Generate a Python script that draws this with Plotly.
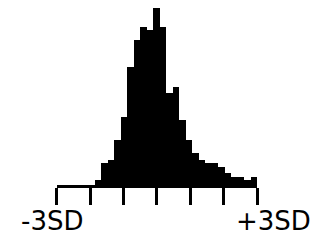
import plotly.graph_objects as go

# Histogram of values in SD units
bin_start = -1.875
bin_width = 0.195
counts = [5, 22, 25, 45, 68, 118, 145, 158, 155, 178, 158, 92, 98, 65, 45,
          32, 25, 22, 22, 18, 12, 8, 8, 5, 8]
tick_vals = [-3, -2, -1, 0, 1, 2, 3]
label_vals = [-3, 3]
label_text = ["-3SD", "+3SD"]

centers = [bin_start + bin_width * (i + 0.5) for i in range(len(counts))]

OFF = 8  # default page body margin
W, H = 326 - OFF, 242 - OFF
fig = go.Figure()
fig.add_trace(go.Bar(x=centers, y=counts, width=bin_width,
                     marker=dict(color="black", line=dict(width=0)),
                     hoverinfo="skip"))

fig.update_layout(
    width=W, height=H,
    margin=dict(l=0, r=0, t=0, b=0),
    paper_bgcolor="white", plot_bgcolor="white",
    showlegend=False, bargap=0,
    xaxis=dict(domain=[(56.7 - OFF) / W, (257 - OFF) / W], range=[-3, 3],
               showgrid=False, zeroline=False,
               showline=True, linewidth=3, linecolor="black",
               ticks="outside", ticklen=17, tickwidth=3, tickcolor="black",
               tickvals=tick_vals, showticklabels=False, fixedrange=True),
    yaxis=dict(domain=[1 - (185 - OFF) / H, 1], range=[0, 185 - OFF],
               showgrid=False, zeroline=False, showline=False,
               showticklabels=False, ticks="", fixedrange=True),
    font=dict(family="DejaVu Sans", color="black"),
)

shifts = [-5, 16]
for v, t, s in zip(label_vals, label_text, shifts):
    fig.add_annotation(x=v, xref="x", y=1 - (221 - OFF) / H, yref="paper",
                       text=t, showarrow=False, xanchor="center",
                       yanchor="middle", xshift=s,
                       font=dict(size=26, family="DejaVu Sans", color="black"))

fig.write_html("out.html", config={"displayModeBar": False})
